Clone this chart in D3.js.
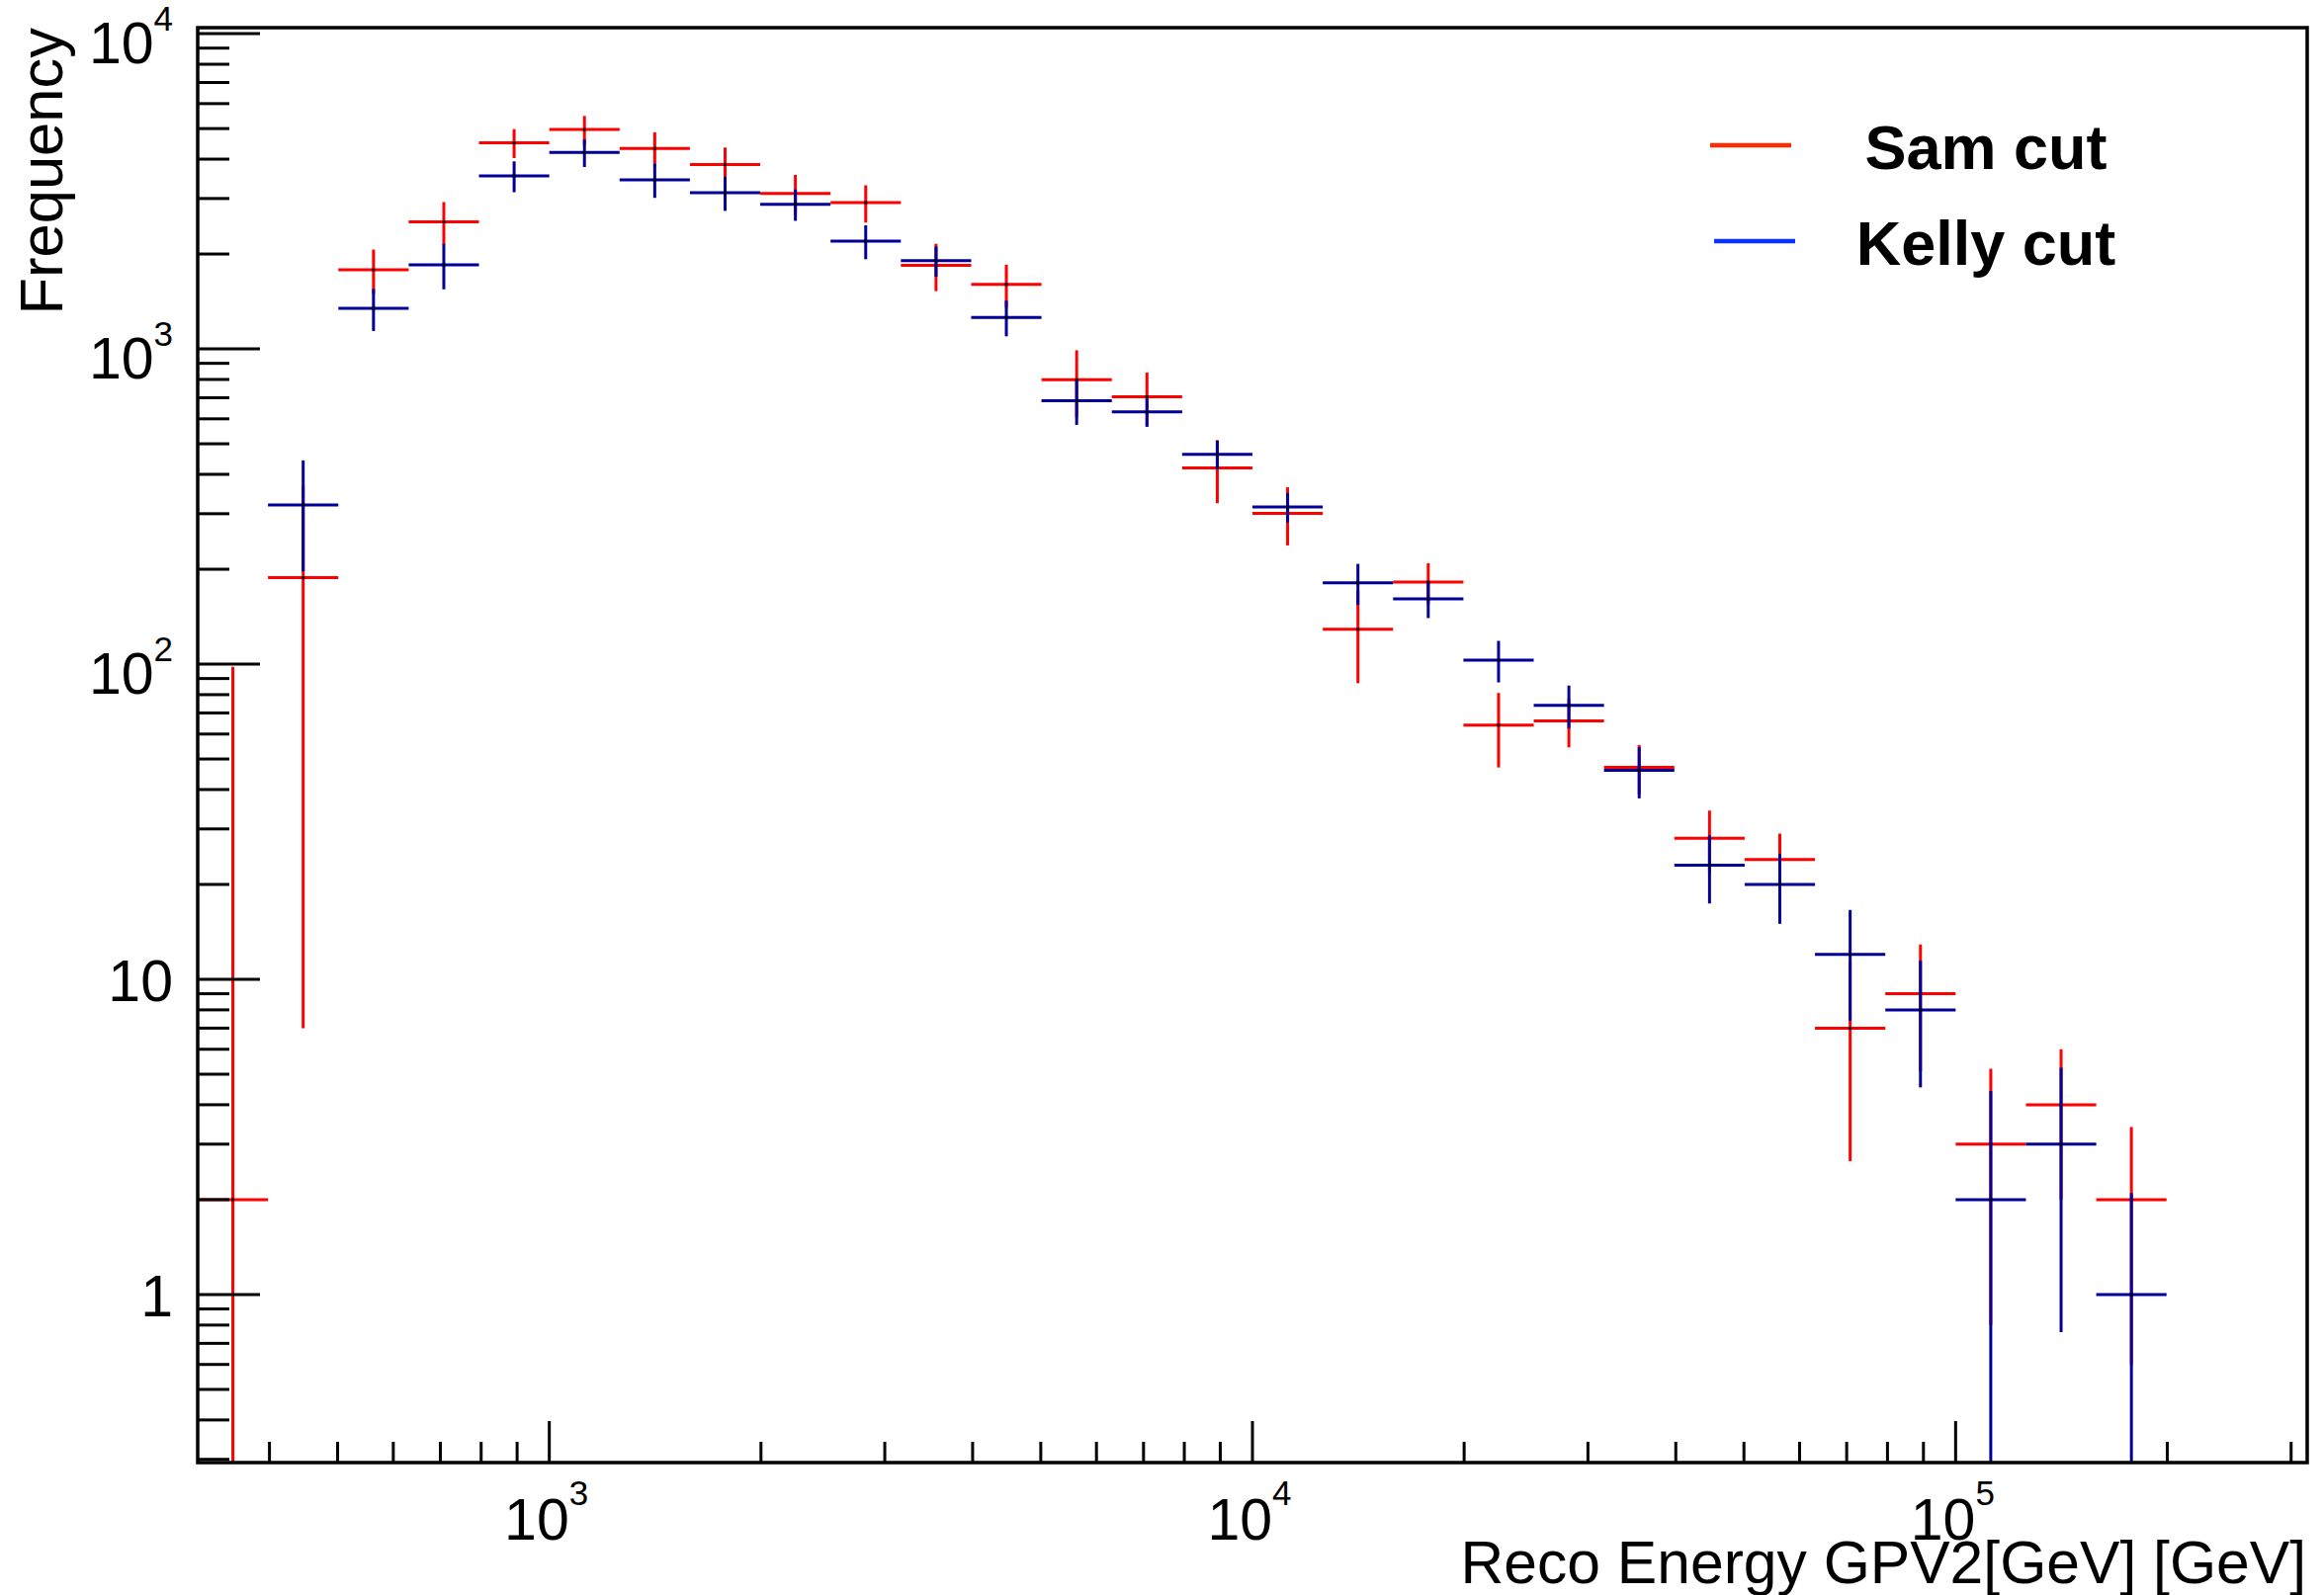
<!DOCTYPE html>
<html><head><meta charset="utf-8">
<script src="https://cdn.jsdelivr.net/npm/d3@7"></script>
<style>body{margin:0;background:#fff} svg{display:block}</style>
</head><body><svg id="c" width="2351" height="1614"></svg>
<script>
// ---- data ----
const binEdges = [316.2, 398.1, 501.2, 631.0, 794.3, 1000, 1258.9, 1584.9, 1995.3, 2511.9,
  3162.3, 3981.1, 5011.9, 6309.6, 7943.3, 10000, 12589, 15849, 19953, 25119,
  31623, 39811, 50119, 63096, 79433, 100000, 125893, 158489, 199526];
const samValues  = [2, 188, 1782, 2531, 4505, 4964, 4326, 3846, 3114, 2911,
  1840, 1601, 798, 705, 419, 301, 129, 182, 64, 66,
  47, 28, 24, 7, 9, 3, 4, 2];
const samErrors  = [96, 181, 284, 392, 475, 520, 540, 508, 450, 394,
  315, 248, 192, 136, 95, 63, 42, 27, 17, 11.6,
  8.4, 6.3, 5, 4.35, 3.9, 2.2, 2.0, 1.4];
const kellyValues = [0, 320, 1345, 1849, 3538, 4197, 3441, 3130, 2876, 2196,
  1905, 1259, 685, 631, 463, 315, 181, 161, 103, 74,
  46, 23, 20, 12, 8, 2, 3, 1];
const kellyErrors = [0, 123, 205, 304, 397, 420, 427, 388, 328, 271,
  210, 163, 111, 65, 48, 34, 27, 21, 15.5, 11.5,
  8.5, 5.6, 5, 4.6, 3.46, 2.42, 2.24, 1.1];
const seriesNames = ["Sam cut", "Kelly cut"];
const xMajorTicks = [1000, 10000, 100000];
const xTickBase = ["10", "10", "10"];
const xTickExp = ["3", "4", "5"];
const yMajorTicks = [1, 10, 100, 1000, 10000];
const yTickBase = ["1", "10", "10", "10", "10"];
const yTickExp = ["", "", "2", "3", "4"];
const xTitle = "Reco Energy GPV2[GeV] [GeV]";
const yTitle = "Frequency";

// ---- styles ----
const dataColors = ["#ff0000", "#000099"];
const legendColors = ["#ff2a00", "#0a32ff"];
const FONT = "'Liberation Sans', Arial, Helvetica, sans-serif";

const L = 200, R = 2334, T = 28, B = 1480;
const svg = d3.select("#c");
svg.append("rect").attr("width", 2351).attr("height", 1614).attr("fill", "#fff");

const x = d3.scaleLog().domain([Math.pow(10, 2.5), Math.pow(10, 5.5)]).range([L, R]);
const y = d3.scaleLog().domain([0.293, 10450]).range([B, T]);

svg.append("defs").append("clipPath").attr("id", "plot")
  .append("rect").attr("x", L).attr("y", T).attr("width", R - L).attr("height", B - T);

// ---- data series ----
const series = [
  {name: seriesNames[0], values: samValues, errors: samErrors, color: dataColors[0]},
  {name: seriesNames[1], values: kellyValues, errors: kellyErrors, color: dataColors[1]}
];
const plot = svg.append("g").attr("clip-path", "url(#plot)");
series.forEach(s => {
  const pts = s.values.map((v, i) => ({v, e: s.errors[i], lo: binEdges[i], hi: binEdges[i + 1]}))
    .filter(d => d.v > 0);
  const g = plot.append("g").attr("stroke", s.color).attr("stroke-width", 3).attr("fill", "none");
  g.selectAll(".h").data(pts).join("line")
    .attr("x1", d => x(d.lo)).attr("x2", d => x(d.hi))
    .attr("y1", d => y(d.v)).attr("y2", d => y(d.v));
  g.selectAll(".v").data(pts).join("line")
    .attr("x1", d => x(Math.sqrt(d.lo * d.hi))).attr("x2", d => x(Math.sqrt(d.lo * d.hi)))
    .attr("y1", d => d.v - d.e > 0 ? y(d.v - d.e) : B + 10)
    .attr("y2", d => y(d.v + d.e));
  plot.append("g").selectAll("rect").data(pts).join("rect")
    .attr("x", d => x(Math.sqrt(d.lo * d.hi)) - 1.5).attr("y", d => y(d.v) - 1.5)
    .attr("width", 3).attr("height", 3).attr("fill", "#000");
});

// ---- axes ----
const axes = svg.append("g").attr("stroke", "#000").attr("stroke-width", 3);
const yAll = y.ticks();
axes.selectAll(".yt").data(yAll).join("line")
  .attr("x1", L).attr("x2", d => L + (yMajorTicks.includes(d) ? 63 : 32))
  .attr("y1", d => y(d)).attr("y2", d => y(d));
const xAll = x.ticks();
axes.selectAll(".xt").data(xAll).join("line")
  .attr("y1", B).attr("y2", d => B - (xMajorTicks.includes(d) ? 42 : 21))
  .attr("x1", d => x(d)).attr("x2", d => x(d));
svg.append("rect").attr("x", L).attr("y", T).attr("width", R - L).attr("height", B - T)
  .attr("fill", "none").attr("stroke", "#000").attr("stroke-width", 3.5);

// y tick labels
yMajorTicks.forEach((v, i) => {
  const hasExp = yTickExp[i] !== "";
  const t = svg.append("text").attr("x", 175).attr("y", y(v) + (hasExp ? 30 : 22))
    .attr("text-anchor", "end").attr("font-family", FONT).attr("font-size", 59).attr("fill", "#000");
  t.append("tspan").text(yTickBase[i]);
  if (hasExp) t.append("tspan").attr("dy", -33).attr("font-size", 35).text(yTickExp[i]);
});
// x tick labels
xMajorTicks.forEach((v, i) => {
  const t = svg.append("text").attr("x", x(v) - 3).attr("y", 1558)
    .attr("text-anchor", "middle").attr("font-family", FONT).attr("font-size", 59).attr("fill", "#000");
  t.append("tspan").text(xTickBase[i]);
  t.append("tspan").attr("dy", -35).attr("font-size", 35).text(xTickExp[i]);
});

// titles
svg.append("text").attr("x", 2333).attr("y", 1602).attr("text-anchor", "end")
  .attr("font-family", FONT).attr("font-size", 60.6).attr("fill", "#000").text(xTitle);
svg.append("text").attr("transform", "translate(63,28) rotate(-90)").attr("text-anchor", "end")
  .attr("font-family", FONT).attr("font-size", 61.5).attr("fill", "#000").text(yTitle);

// legend
const legY = [147, 244];
seriesNames.forEach((n, i) => {
  svg.append("line").attr("x1", 1730 + i * 4).attr("x2", 1812 + i * 4)
    .attr("y1", legY[i]).attr("y2", legY[i])
    .attr("stroke", legendColors[i]).attr("stroke-width", 4.5);
  svg.append("text").attr("x", 2009).attr("y", legY[i] + 24).attr("text-anchor", "middle")
    .attr("font-family", FONT).attr("font-weight", "bold").attr("font-size", 63)
    .attr("fill", "#000").text(n);
});
</script></body></html>
